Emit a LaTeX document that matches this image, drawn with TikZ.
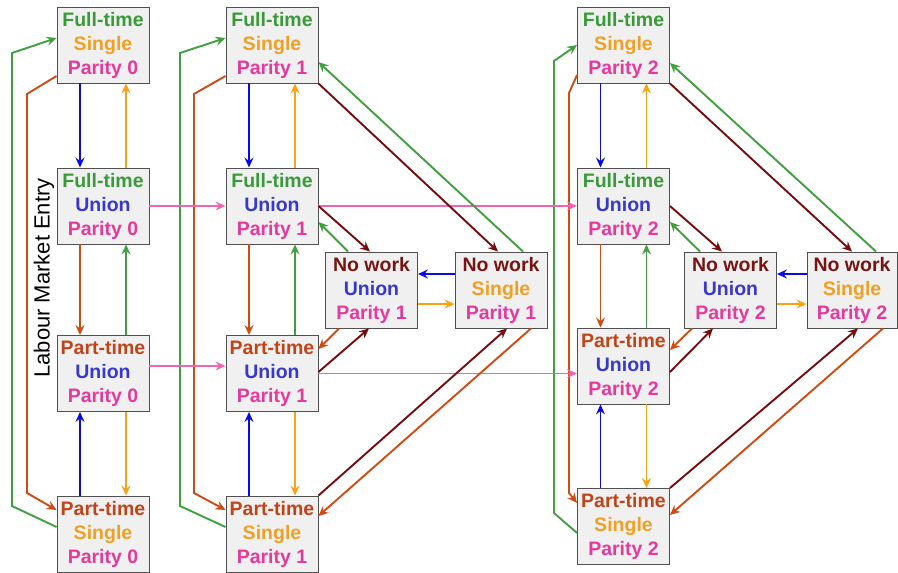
\documentclass[tikz,border=0pt]{standalone}
\usepackage{fontspec}
\setmainfont{Liberation Sans}
\usetikzlibrary{arrows.meta,calc}
\definecolor{cgreen}{HTML}{3A9A3A}
\definecolor{lgreen}{HTML}{40A040}
\definecolor{corange}{HTML}{F2A024}
\definecolor{lorange}{HTML}{FFA010}
\definecolor{cmag}{HTML}{E6399B}
\definecolor{cblue}{HTML}{3838D0}
\definecolor{lblue}{HTML}{0A0AE6}
\definecolor{cpart}{HTML}{C0441A}
\definecolor{lpart}{HTML}{D04A14}
\definecolor{cnow}{HTML}{7A1414}
\definecolor{lnow}{HTML}{780C0C}
\definecolor{lpink}{HTML}{F064B4}
\definecolor{boxfill}{HTML}{F0F0F0}
\definecolor{boxline}{HTML}{505050}
\newcommand{\FT}{{\color{cgreen}Full-time}}
\newcommand{\PT}{{\color{cpart}Part-time}}
\newcommand{\NW}{{\color{cnow}No work}}
\newcommand{\SG}{{\color{corange}Single}}
\newcommand{\UN}{{\color{cblue}Union}}
\newcommand{\PA}[1]{{\color{cmag}Parity #1}}
\begin{document}
\begin{tikzpicture}[x=1pt,y=-1pt,
  state/.style={draw=boxline,fill=boxfill,line width=0.9pt,minimum width=92pt,minimum height=76pt,
    inner sep=0pt,align=center,font=\fontsize{19.5}{24}\selectfont\bfseries},
  ar/.style={line width=1.9pt,-{Stealth[length=10pt,width=9pt,inset=3.5pt]}},
  pk/.style={ar,line width=1.5pt,lpink}]
\useasboundingbox (0,0) rectangle (898,573);
% nodes
\node[state] (FTS0) at (103,45) {\FT\\\SG\\\PA{0}};
\node[state] (FTU0) at (103,206) {\FT\\\UN\\\PA{0}};
\node[state] (PTU0) at (103,373.5) {\PT\\\UN\\\PA{0}};
\node[state] (PTS0) at (103,534) {\PT\\\SG\\\PA{0}};
\node[state] (FTS1) at (272,45) {\FT\\\SG\\\PA{1}};
\node[state] (FTU1) at (272,206) {\FT\\\UN\\\PA{1}};
\node[state] (PTU1) at (272,373.5) {\PT\\\UN\\\PA{1}};
\node[state] (PTS1) at (272,534) {\PT\\\SG\\\PA{1}};
\node[state] (NWU1) at (371.5,290) {\NW\\\UN\\\PA{1}};
\node[state] (NWS1) at (501,290) {\NW\\\SG\\\PA{1}};
\node[state] (FTS2) at (623.5,45) {\FT\\\SG\\\PA{2}};
\node[state] (FTU2) at (623.5,206) {\FT\\\UN\\\PA{2}};
\node[state] (PTU2) at (623.5,366) {\PT\\\UN\\\PA{2}};
\node[state] (PTS2) at (623.5,526.5) {\PT\\\SG\\\PA{2}};
\node[state] (NWU2) at (730.5,290) {\NW\\\UN\\\PA{2}};
\node[state,minimum width=90pt] (NWS2) at (852,290) {\NW\\\SG\\\PA{2}};
\node[rotate=90,font=\fontsize{22}{22}\selectfont] (lme) at (44,278) {Labour Market Entry};
% vertical arrows in each column
\foreach \c in {0,1,2}{
  \draw[ar,lblue]   ($(FTS\c.south)+(-23,0)$) -- ($(FTU\c.north)+(-23,0)$);
  \draw[ar,lorange] ($(FTU\c.north)+(23,0)$) -- ($(FTS\c.south)+(23,0)$);
  \draw[ar,lpart]   ($(FTU\c.south)+(-23,0)$) -- ($(PTU\c.north)+(-23,0)$);
  \draw[ar,lgreen]  ($(PTU\c.north)+(23,0)$) -- ($(FTU\c.south)+(23,0)$);
  \draw[ar,lblue]   ($(PTS\c.north)+(-23,0)$) -- ($(PTU\c.south)+(-23,0)$);
  \draw[ar,lorange] ($(PTU\c.south)+(23,0)$) -- ($(PTS\c.north)+(23,0)$);
}
% outer loops
\draw[ar,lgreen] ($(PTS0.west)+(0,-7)$) -- (12,506) -- (12,53) -- ($(FTS0.west)+(0,-7)$);
\draw[ar,lpart] ($(FTS0.west)+(0,31)$) -- (27,94) -- (27,493) -- ($(PTS0.west)+(0,-24)$);
\draw[ar,lgreen] ($(PTS1.west)+(0,-7)$) -- (180,506) -- (180,53) -- ($(FTS1.west)+(0,-7)$);
\draw[ar,lpart] ($(FTS1.west)+(0,31)$) -- (194,94) -- (194,493) -- ($(PTS1.west)+(0,-24)$);
\draw[ar,lgreen] ($(PTS2.west)+(0,6.5)$) -- (554,513) -- (554,61) -- (FTS2.west);
\draw[ar,lpart] ($(FTS2.west)+(0,30)$) -- (569,93) -- (569,493) -- ($(PTS2.west)+(0,-23.5)$);
% pink arrows
\draw[pk] (FTU0.east) -- (FTU1.west);
\draw[pk] ($(PTU0.east)+(0,-7.5)$) -- ($(PTU1.west)+(0,-7.5)$);
\draw[pk] (FTU1.east) -- (FTU2.west);
\draw[pk] (PTU1.east) -- ($(PTU2.west)+(0,7.5)$);
% parity 1 no-work arrows
\draw[ar,lnow] (FTS1.south east) -- ($(NWS1.north)+(-3,0)$);
\draw[ar,lgreen] ($(NWS1.north)+(22,0)$) -- ($(FTS1.east)+(0,17)$);
\draw[ar,lnow] (FTU1.east) -- ($(NWU1.north)+(-1.5,0)$);
\draw[ar,lgreen] ($(NWU1.north)+(-23.5,0)$) -- ($(FTU1.east)+(0,16)$);
\draw[ar,lblue] ($(NWS1.west)+(0,-16)$) -- ($(NWU1.east)+(0,-16)$);
\draw[ar,lorange] ($(NWU1.east)+(0,14)$) -- ($(NWS1.west)+(0,14)$);
\draw[ar,lpart] ($(NWU1.south)+(-32.5,0)$) -- ($(PTU1.east)+(0,-24.5)$);
\draw[ar,lnow] ($(PTU1.east)+(0,-1.5)$) -- ($(NWU1.south)+(-2.5,0)$);
\draw[ar,lnow] (PTS1.north east) -- ($(NWS1.south)+(6,0)$);
\draw[ar,lpart] ($(NWS1.south)+(30,0)$) -- ($(PTS1.east)+(0,-18)$);
% parity 2 no-work arrows
\draw[ar,lnow] (FTS2.south east) -- (NWS2.north);
\draw[ar,lgreen] ($(NWS2.north)+(24,0)$) -- ($(FTS2.east)+(0,18)$);
\draw[ar,lnow] (FTU2.east) -- ($(NWU2.north)+(-8.5,0)$);
\draw[ar,lgreen] ($(NWU2.north)+(-30.5,0)$) -- ($(FTU2.east)+(0,16)$);
\draw[ar,lblue] ($(NWS2.west)+(0,-16)$) -- ($(NWU2.east)+(0,-16)$);
\draw[ar,lorange] ($(NWU2.east)+(0,14)$) -- ($(NWS2.west)+(0,14)$);
\draw[ar,lpart] ($(NWU2.south)+(-38.5,0)$) -- ($(PTU2.east)+(0,-16)$);
\draw[ar,lnow] ($(PTU2.east)+(0,6)$) -- ($(NWU2.south)+(-17.5,0)$);
\draw[ar,lnow] (PTS2.north east) -- ($(NWS2.south)+(6,0)$);
\draw[ar,lpart] ($(NWS2.south)+(31,0)$) -- ($(PTS2.east)+(0,-11.5)$);
\end{tikzpicture}
\end{document}
